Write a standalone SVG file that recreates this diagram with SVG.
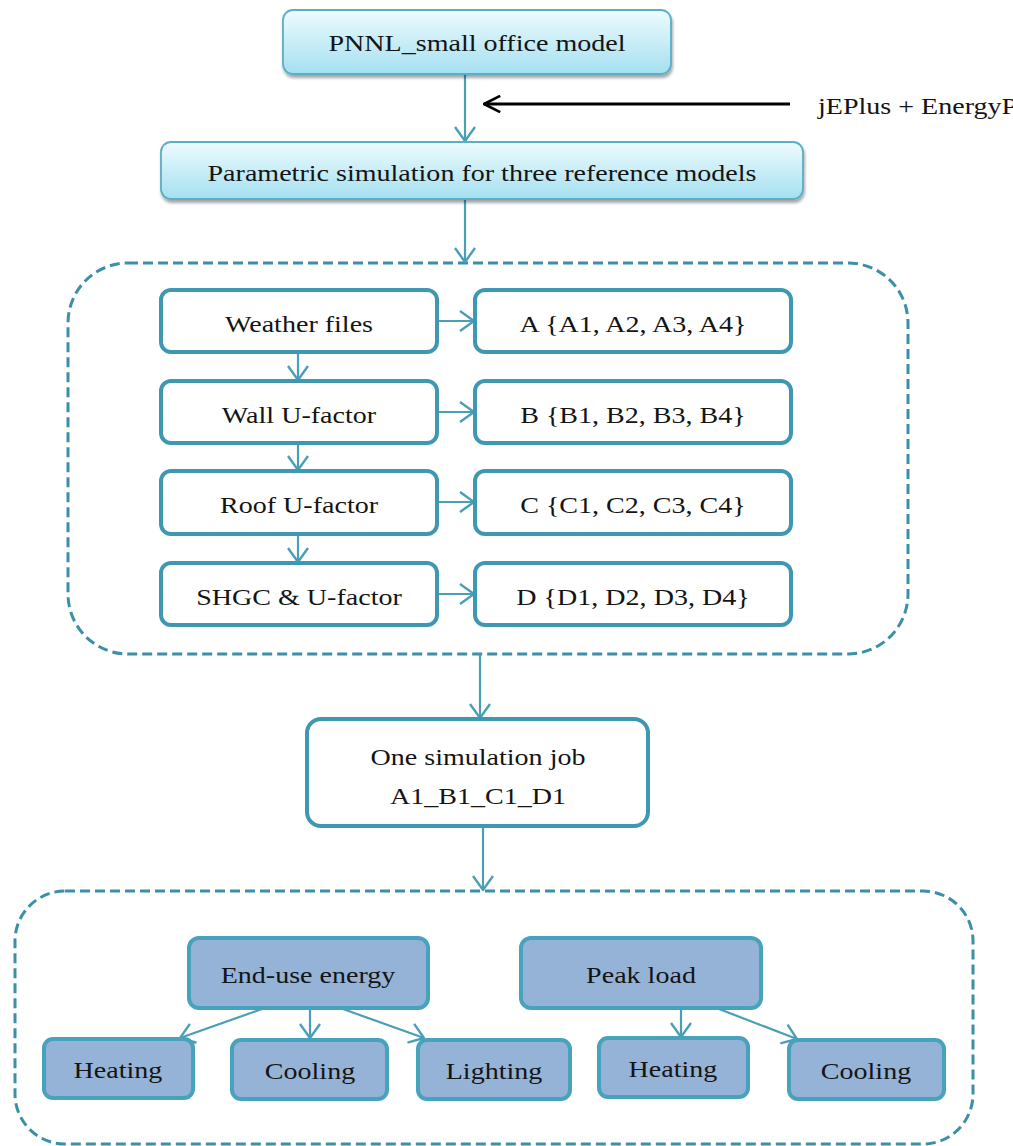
<svg xmlns="http://www.w3.org/2000/svg" width="1013" height="1146" viewBox="0 0 1013 1146">
<style>
.t{font-family:"Liberation Serif","Times New Roman",serif;font-size:23px;fill:#141414;text-anchor:middle}
.ts{text-anchor:start}
.top{fill:url(#cyan);stroke:#5aaec5;stroke-width:1.8;filter:url(#sh)}
.wb{fill:#ffffff;stroke:#3f97b1;stroke-width:4}
.bb{fill:#95b3d7;stroke:#47a2bb;stroke-width:4}
.dash{fill:none;stroke:#3b8fa6;stroke-width:3;stroke-dasharray:10 5}
.c{stroke:#4a9fb8;stroke-width:2.2;fill:none;marker-end:url(#ah)}
.k{stroke:#000;stroke-width:3;fill:none;marker-end:url(#akh)}
</style>
<defs>
<linearGradient id="cyan" x1="0" y1="0" x2="0" y2="1">
<stop offset="0" stop-color="#eefbfe"/>
<stop offset="1" stop-color="#a4e0f0"/>
</linearGradient>
<filter id="sh" x="-5%" y="-10%" width="110%" height="130%">
<feDropShadow dx="1" dy="3" stdDeviation="1.5" flood-color="#000" flood-opacity="0.35"/>
</filter>
<marker id="ah" viewBox="0 0 16 22" refX="15" refY="11" markerWidth="16" markerHeight="22" markerUnits="userSpaceOnUse" orient="auto">
<path d="M1,1 L15,11 L1,21" fill="none" stroke="#4a9fb8" stroke-width="2.4"/>
</marker>
<marker id="akh" viewBox="0 0 20 20" refX="19" refY="10" markerWidth="18" markerHeight="18" markerUnits="userSpaceOnUse" orient="auto">
<path d="M1,1 L19,10 L1,19" fill="none" stroke="#000" stroke-width="3"/>
</marker>
</defs>

<g id="containers">
<rect id="group-parameters" class="dash" x="68" y="263" width="840" height="391" rx="60"/>
<rect id="group-outputs" class="dash" x="15" y="891" width="958" height="253" rx="50"/>
</g>

<g id="connectors">
<line class="c" x1="465" y1="74" x2="465" y2="141"/>
<line class="k" x1="790" y1="104" x2="484" y2="104"/>
<line class="c" x1="465" y1="199" x2="465" y2="262"/>
<line class="c" x1="437" y1="321" x2="474" y2="321"/>
<line class="c" x1="437" y1="412" x2="474" y2="412"/>
<line class="c" x1="437" y1="502" x2="474" y2="502"/>
<line class="c" x1="437" y1="594" x2="474" y2="594"/>
<line class="c" x1="298" y1="352" x2="298" y2="380"/>
<line class="c" x1="298" y1="443" x2="298" y2="470"/>
<line class="c" x1="298" y1="533" x2="298" y2="562"/>
<line class="c" x1="480" y1="654" x2="480" y2="718"/>
<line class="c" x1="483" y1="826" x2="483" y2="890"/>
<line class="c" x1="262" y1="1009" x2="180" y2="1038"/>
<line class="c" x1="310" y1="1009" x2="310" y2="1038"/>
<line class="c" x1="343" y1="1009" x2="424" y2="1038"/>
<line class="c" x1="681" y1="1009" x2="681" y2="1037"/>
<line class="c" x1="719" y1="1009" x2="797" y2="1039"/>
</g>

<g id="label-jeplus">
<text class="t ts" transform="translate(818 114) scale(1.22 1)">jEPlus + EnergyPlus</text>
</g>

<g id="n-pnnl">
<rect class="top" x="283" y="10" width="388" height="64" rx="10"/>
<text class="t" transform="translate(477 51) scale(1.22 1)">PNNL_small office model</text>
</g>
<g id="n-parametric">
<rect class="top" x="161" y="142" width="642" height="57" rx="10"/>
<text class="t" transform="translate(482 181) scale(1.22 1)">Parametric simulation for three reference models</text>
</g>

<g id="n-weather">
<rect class="wb" x="161" y="290" width="276" height="62" rx="10"/>
<text class="t" transform="translate(299 332) scale(1.22 1)">Weather files</text>
</g>
<g id="n-a">
<rect class="wb" x="475" y="290" width="316" height="62" rx="10"/>
<text class="t" transform="translate(633 332) scale(1.22 1)">A {A1, A2, A3, A4}</text>
</g>
<g id="n-wall">
<rect class="wb" x="161" y="381" width="276" height="62" rx="10"/>
<text class="t" transform="translate(299 423) scale(1.22 1)">Wall U-factor</text>
</g>
<g id="n-b">
<rect class="wb" x="475" y="381" width="316" height="62" rx="10"/>
<text class="t" transform="translate(633 423) scale(1.22 1)">B {B1, B2, B3, B4}</text>
</g>
<g id="n-roof">
<rect class="wb" x="161" y="471" width="276" height="63" rx="10"/>
<text class="t" transform="translate(299 513) scale(1.22 1)">Roof U-factor</text>
</g>
<g id="n-c">
<rect class="wb" x="475" y="471" width="316" height="63" rx="10"/>
<text class="t" transform="translate(633 513) scale(1.22 1)">C {C1, C2, C3, C4}</text>
</g>
<g id="n-shgc">
<rect class="wb" x="161" y="563" width="276" height="62" rx="10"/>
<text class="t" transform="translate(299 605) scale(1.22 1)">SHGC &amp; U-factor</text>
</g>
<g id="n-d">
<rect class="wb" x="475" y="563" width="316" height="62" rx="10"/>
<text class="t" transform="translate(633 605) scale(1.22 1)">D {D1, D2, D3, D4}</text>
</g>

<g id="n-job">
<rect class="wb" x="307" y="719" width="341" height="107" rx="14"/>
<text class="t" transform="translate(478 765) scale(1.22 1)">One simulation job</text>
<text class="t" transform="translate(478 804) scale(1.22 1)">A1_B1_C1_D1</text>
</g>

<g id="n-enduse">
<rect class="bb" x="189" y="938" width="239" height="70" rx="10"/>
<text class="t" transform="translate(308 983) scale(1.22 1)">End-use energy</text>
</g>
<g id="n-peak">
<rect class="bb" x="521" y="938" width="240" height="70" rx="10"/>
<text class="t" transform="translate(641 983) scale(1.22 1)">Peak load</text>
</g>
<g id="n-heat1">
<rect class="bb" x="44" y="1039" width="149" height="59" rx="9"/>
<text class="t" transform="translate(118 1078) scale(1.22 1)">Heating</text>
</g>
<g id="n-cool1">
<rect class="bb" x="232" y="1040" width="155" height="59" rx="9"/>
<text class="t" transform="translate(310 1079) scale(1.22 1)">Cooling</text>
</g>
<g id="n-light">
<rect class="bb" x="418" y="1040" width="152" height="59" rx="9"/>
<text class="t" transform="translate(494 1079) scale(1.22 1)">Lighting</text>
</g>
<g id="n-heat2">
<rect class="bb" x="599" y="1038" width="149" height="59" rx="9"/>
<text class="t" transform="translate(673 1077) scale(1.22 1)">Heating</text>
</g>
<g id="n-cool2">
<rect class="bb" x="789" y="1040" width="155" height="59" rx="9"/>
<text class="t" transform="translate(866 1079) scale(1.22 1)">Cooling</text>
</g>
</svg>
